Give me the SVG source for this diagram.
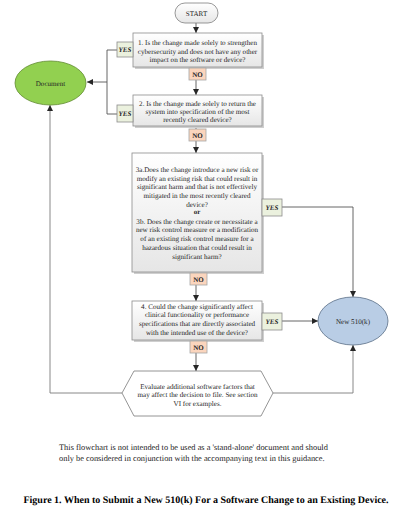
<svg xmlns="http://www.w3.org/2000/svg" width="400" height="516" viewBox="0 0 400 516">
<defs>
<linearGradient id="boxg" x1="0" y1="0" x2="0" y2="1">
<stop offset="0" stop-color="#ffffff"/>
<stop offset="1" stop-color="#e6e6e6"/>
</linearGradient>
<marker id="arr" viewBox="0 0 6 6" refX="6" refY="3" markerWidth="6" markerHeight="6" orient="auto" markerUnits="userSpaceOnUse">
<path d="M0,0 L6,3 L0,6 z" fill="#262626"/>
</marker>
</defs>
<style>
text{text-rendering:geometricPrecision}
.t{font-family:"Liberation Serif","Times New Roman",serif;font-size:7.1px;fill:#262626;text-anchor:middle}
.box{fill:url(#boxg);stroke:#8c8c8c;stroke-width:0.8}
.sh{fill:#cfcfcf}
.yes{fill:#ebf1de;stroke:#8c8c8c;stroke-width:0.8}
.no{fill:#fbd5bd;stroke:#a6a6a6;stroke-width:0.8}
.lb{font-family:"Liberation Serif","Times New Roman",serif;font-size:7px;font-weight:bold;fill:#262626;text-anchor:middle}
.ln{fill:none;stroke:#555555;stroke-width:0.9}
.lg{fill:none;stroke:#7a7a7a;stroke-width:0.9}
.foot{font-family:"Liberation Serif","Times New Roman",serif;font-size:8.4px;fill:#222222}
.cap{font-family:"Liberation Serif","Times New Roman",serif;font-size:10px;font-weight:bold;fill:#000000;text-anchor:middle}
</style>
<rect width="400" height="516" fill="#ffffff"/>

<g id="connectors">
<line class="ln" x1="196" y1="23" x2="196" y2="33" marker-end="url(#arr)"/>
<line class="ln" x1="196" y1="67" x2="196" y2="95" marker-end="url(#arr)"/>
<line class="ln" x1="196" y1="126" x2="196" y2="153" marker-end="url(#arr)"/>
<line class="ln" x1="196" y1="272" x2="196" y2="301" marker-end="url(#arr)"/>
<line class="ln" x1="196" y1="340" x2="196" y2="371" marker-end="url(#arr)"/>
<polyline class="ln" points="117,50 107,50 107,114 117,114"/>
<line class="ln" x1="107" y1="82" x2="87" y2="82" marker-end="url(#arr)"/>
<polyline class="ln" points="282,207 353,207 353,297" marker-end="url(#arr)"/>
<line class="ln" x1="282" y1="321" x2="318" y2="321" marker-end="url(#arr)"/>
<polyline class="lg" points="122,393 50,393 50,105" marker-end="url(#arr)"/>
<polyline class="lg" points="273,393 353,393 353,345" marker-end="url(#arr)"/>
</g>

<g id="start">
<rect x="175" y="3" width="43" height="20" rx="10" fill="url(#boxg)" stroke="#7f7f7f" stroke-width="0.8"/>
<text class="t" x="196.5" y="15.5">START</text>
</g>

<g id="document">
<ellipse cx="50.5" cy="83" rx="35.5" ry="22" fill="#92d050" stroke="#5f8a2e" stroke-width="0.8"/>
<text class="t" x="50.5" y="85.5">Document</text>
</g>

<g id="new510k">
<ellipse cx="353" cy="321" rx="35" ry="24" fill="#b9cde5" stroke="#5b6f87" stroke-width="0.8"/>
<text class="t" x="353" y="323.5">New 510(k)</text>
</g>

<g id="q1">
<rect class="sh" x="135" y="35" width="129" height="34"/>
<rect class="box" x="133" y="33" width="129" height="34"/>
<text class="t" x="197.5" y="45.3">1. Is the change made solely to strengthen</text>
<text class="t" x="197.5" y="53.6">cybersecurity and does not have any other</text>
<text class="t" x="197.5" y="61.9">impact on the software or device?</text>
</g>

<g id="q2">
<rect class="sh" x="135" y="97" width="129" height="31"/>
<rect class="box" x="133" y="95" width="129" height="31"/>
<text class="t" x="197.5" y="105.5">2. Is the change made solely to return the</text>
<text class="t" x="197.5" y="113.8">system into specification of the most</text>
<text class="t" x="197.5" y="122.1">recently cleared device?</text>
</g>

<g id="q3">
<rect class="sh" x="134" y="155" width="130" height="119"/>
<rect class="box" x="132" y="153" width="130" height="119"/>
<text class="t" x="197" y="171.8">3a.Does the change introduce a new risk or</text>
<text class="t" x="197" y="180.6">modify an existing risk that could result in</text>
<text class="t" x="197" y="189.4">significant harm and that is not effectively</text>
<text class="t" x="197" y="198.2">mitigated in the most recently cleared</text>
<text class="t" x="197" y="207">device?</text>
<text class="lb" x="197" y="214.3">or</text>
<text class="t" x="197" y="223.5">3b. Does the change create or necessitate a</text>
<text class="t" x="197" y="232.3">new risk control measure or a modification</text>
<text class="t" x="197" y="241.1">of an existing risk control measure for a</text>
<text class="t" x="197" y="249.9">hazardous situation that could result in</text>
<text class="t" x="197" y="258.7">significant harm?</text>
</g>

<g id="q4">
<rect class="sh" x="134" y="303" width="130" height="39"/>
<rect class="box" x="132" y="301" width="130" height="39"/>
<text class="t" x="197" y="308.6">4. Could the change significantly affect</text>
<text class="t" x="197" y="317.3">clinical functionality or performance</text>
<text class="t" x="197" y="326">specifications that are directly associated</text>
<text class="t" x="197" y="334.7">with the intended use of the device?</text>
</g>

<g id="evaluate">
<polygon points="122,393 134,371 261,371 273,393 261,416 134,416" fill="#ffffff" stroke="#7a7a7a" stroke-width="0.8"/>
<text class="t" x="197.5" y="388.5">Evaluate additional software factors that</text>
<text class="t" x="197.5" y="397">may affect the decision to file. See section</text>
<text class="t" x="197.5" y="405.5">VI for examples.</text>
</g>

<g id="labels">
<rect class="yes" x="117" y="42" width="16" height="15"/>
<text class="lb" x="125" y="52" font-style="italic">YES</text>
<rect class="yes" x="117" y="105" width="16" height="17"/>
<text class="lb" x="125" y="116" font-style="italic">YES</text>
<rect class="yes" x="262" y="199" width="20" height="17"/>
<text class="lb" x="272" y="210" font-style="italic">YES</text>
<rect class="yes" x="262" y="313" width="20" height="17"/>
<text class="lb" x="272" y="324" font-style="italic">YES</text>
<rect class="no" x="189" y="68" width="17" height="12"/>
<text class="lb" x="197.5" y="76.5">NO</text>
<rect class="no" x="189" y="129" width="17" height="12"/>
<text class="lb" x="197.5" y="137.5">NO</text>
<rect class="no" x="190" y="273" width="17" height="12"/>
<text class="lb" x="198.5" y="281.5">NO</text>
<rect class="no" x="190" y="341" width="17" height="12"/>
<text class="lb" x="198.5" y="349.5">NO</text>
</g>

<g id="footer">
<text class="foot" x="59" y="449.5">This flowchart is not intended to be used as a 'stand-alone' document and should</text>
<text class="foot" x="59" y="460.5">only be considered in conjunction with the accompanying text in this guidance.</text>
<text class="cap" x="206" y="503">Figure 1. When to Submit a New 510(k) For a Software Change to an Existing Device.</text>
</g>
</svg>
